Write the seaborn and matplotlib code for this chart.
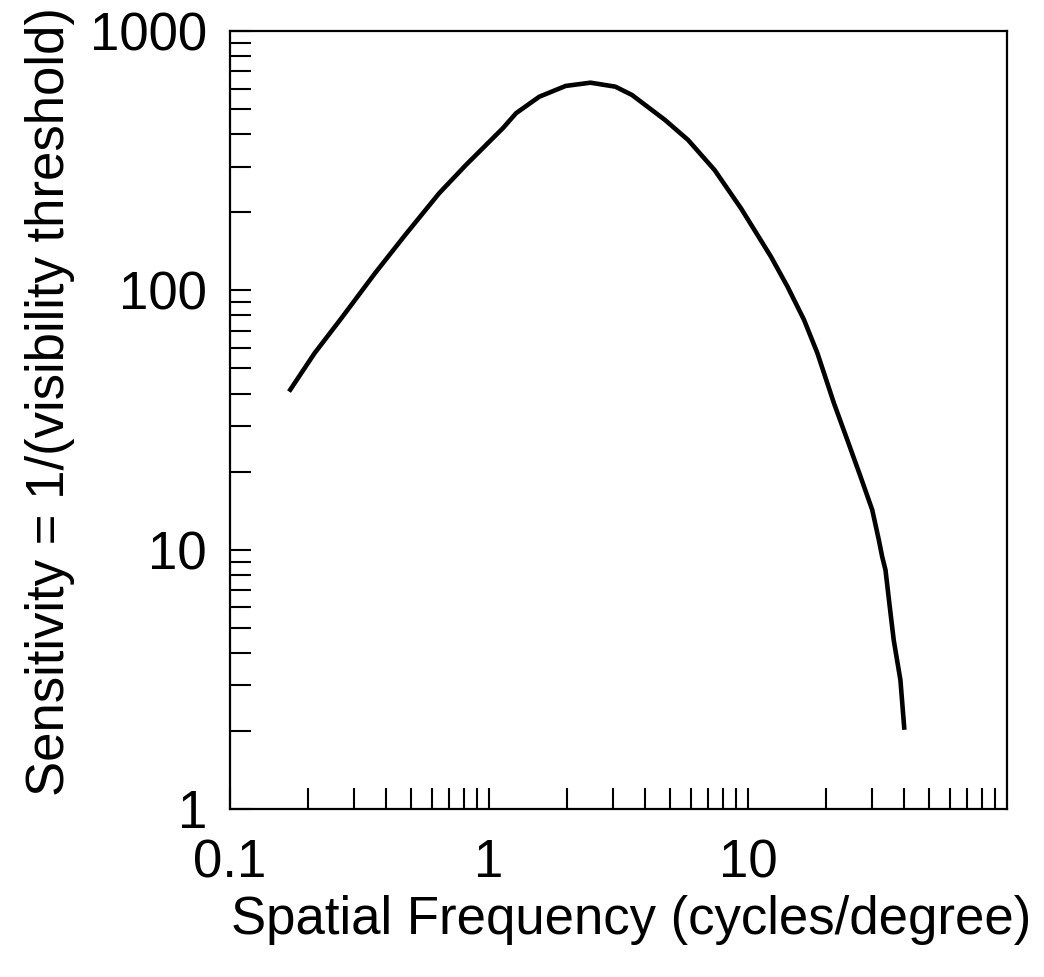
import numpy as np
import pandas as pd
import matplotlib
matplotlib.use("Agg")
import matplotlib.pyplot as plt
import matplotlib.ticker as mticker
import seaborn as sns

# Data
freq = [0.169, 0.212, 0.269, 0.363, 0.475, 0.642, 0.815, 1.131, 1.272, 1.564,
        1.977, 2.466, 3.074, 3.562, 4.78, 5.87, 7.43, 9.40, 12.26,
        14.21, 16.46, 18.54, 21.47, 24.18, 27.20, 30.18, 32.0, 32.96, 33.95,
        35.26, 36.53, 38.77, 40.16]
sensitivity = [40.7, 57.2, 78.0, 116.4, 163.6, 236.8, 304.5, 421.8, 482, 558,
               614, 632, 610, 567, 454, 380, 291, 207, 134.9,
               103.3, 76.9, 57.2, 36.7, 26.5, 19.12, 14.23, 10.9, 9.40, 8.35,
               6.03, 4.48, 3.14, 2.02]

x_major = [0.1, 1, 10]
x_major_labels = ["0.1", "1", "10"]
y_major = [1, 10, 100, 1000]
y_major_labels = ["1", "10", "100", "1000"]

xlabel = "Spatial Frequency (cycles/degree)"
ylabel = "Sensitivity = 1/(visibility threshold)"

sns.set_theme(style="white")
plt.rcParams["font.family"] = ["Liberation Sans", "DejaVu Sans"]

df = pd.DataFrame({"freq": freq, "sens": sensitivity})

fig = plt.figure(figsize=(10.44, 9.77), dpi=100)
ax = fig.add_axes([230 / 1044, 1 - 809 / 977, (1007 - 230) / 1044, (809 - 31) / 977])

sns.lineplot(data=df, x="freq", y="sens", ax=ax, sort=False, estimator=None,
             color="black", linewidth=3.3, solid_capstyle="butt",
             solid_joinstyle="round")

ax.set_xscale("log")
ax.set_yscale("log")
ax.set_xlim(0.1, 100)
ax.set_ylim(1, 1000)

ax.xaxis.set_major_locator(mticker.FixedLocator(x_major))
ax.xaxis.set_major_formatter(mticker.FixedFormatter(x_major_labels))
ax.xaxis.set_minor_locator(mticker.LogLocator(base=10, subs=np.arange(2, 10), numticks=20))
ax.xaxis.set_minor_formatter(mticker.NullFormatter())
ax.yaxis.set_major_locator(mticker.FixedLocator(y_major))
ax.yaxis.set_major_formatter(mticker.FixedFormatter(y_major_labels))
ax.yaxis.set_minor_locator(mticker.LogLocator(base=10, subs=np.arange(2, 10), numticks=20))
ax.yaxis.set_minor_formatter(mticker.NullFormatter())

for side in ["left", "right", "top", "bottom"]:
    ax.spines[side].set_visible(True)
    ax.spines[side].set_color("black")
    ax.spines[side].set_linewidth(1.6)

ax.tick_params(axis="both", which="both", direction="in", length=15, width=1.5,
               color="black", bottom=True, left=True, top=False, right=False)
ax.tick_params(axis="x", which="major", labelsize=38, pad=21, labelcolor="black")
ax.tick_params(axis="y", which="major", labelsize=38, pad=16.5, labelcolor="black")

ax.set_xlabel(xlabel, fontsize=38, color="black")
ax.set_ylabel(ylabel, fontsize=38, color="black")
ax.xaxis.set_label_coords((631 - 230) / 777, -(920 - 809) / 778)
ax.xaxis.label.set_verticalalignment("center")
ax.yaxis.set_label_coords((50 - 230) / 777, (809 - 402) / 778)
ax.yaxis.label.set_verticalalignment("center")

ax.grid(False)
ax.set_facecolor("white")
fig.patch.set_facecolor("white")

fig.savefig("out.png", dpi=100, facecolor="white")
